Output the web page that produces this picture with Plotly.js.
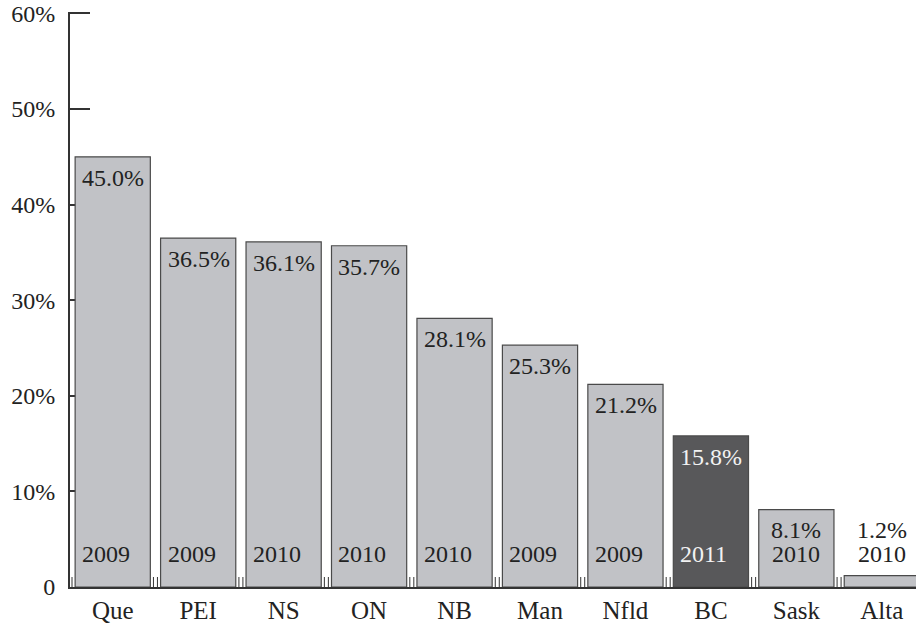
<!DOCTYPE html>
<html><head><meta charset="utf-8">
<script src="https://cdn.plot.ly/plotly-3.0.1.min.js"></script>
<style>html,body{margin:0;padding:0;background:#fff;}#chart{width:916px;height:630px;}</style>
</head><body><div id="chart"></div>
<script>
var provinces = ['Que','PEI','NS','ON','NB','Man','Nfld','BC','Sask','Alta'];
var values = [45.0, 36.5, 36.1, 35.7, 28.1, 25.3, 21.2, 15.8, 8.1, 1.2];
var years = ['2009','2009','2010','2010','2010','2009','2009','2011','2010','2010'];
var highlight = 'BC';
var yTickVals = [0,10,20,30,40,50,60];
var yTickText = ['0','10%','20%','30%','40%','50%','60%'];

var FONT = 'Liberation Serif, Times New Roman, serif';
var bargap = 0.12;
var half = (1 - bargap) / 2;
var idx = provinces.map(function(_, i){ return i; });
var fills = provinces.map(function(p){ return p === highlight ? '#58585a' : '#c1c2c6'; });

var trace = {
  type: 'bar', x: idx, y: values,
  marker: {color: fills, line: {color: '#4a4a4a', width: 1.2}},
  hoverinfo: 'none'
};

var ann = [];
var shapes = [];
values.forEach(function(v, i){
  var col = provinces[i] === highlight ? '#f2f2f2' : '#222';
  var f = {family: FONT, size: 24, color: col};
  if (v >= 10) {
    ann.push({x: i - half, y: v, xref: 'x', yref: 'y', xanchor: 'left', yanchor: 'middle',
      xshift: 5, yshift: -21, text: v.toFixed(1) + '%', showarrow: false, font: f});
    ann.push({x: i - half, y: 0, xref: 'x', yref: 'y', xanchor: 'left', yanchor: 'middle',
      xshift: 5, yshift: 33, text: years[i], showarrow: false, font: f});
  } else {
    ann.push({x: i, y: 0, xref: 'x', yref: 'y', xanchor: 'center', yanchor: 'middle',
      yshift: 57, text: v.toFixed(1) + '%', showarrow: false, font: f});
    ann.push({x: i, y: 0, xref: 'x', yref: 'y', xanchor: 'center', yanchor: 'middle',
      yshift: 33, text: years[i], showarrow: false, font: f});
  }
  var b = i - 0.5;
  [-2, 2].forEach(function(dx){
    shapes.push({type: 'line', xref: 'x', yref: 'y', xsizemode: 'pixel', ysizemode: 'pixel',
      xanchor: b, yanchor: 0, x0: dx, x1: dx, y0: 0, y1: 10,
      line: {color: '#333', width: 1}});
  });
});

var layout = {
  width: 916, height: 630,
  margin: {l: 70, r: 0, t: 12, b: 43},
  paper_bgcolor: '#fff', plot_bgcolor: '#fff',
  showlegend: false, bargap: bargap,
  font: {family: FONT, size: 24, color: '#222'},
  xaxis: {
    range: [-0.5, 9.4], tickvals: idx, ticktext: provinces,
    showline: true, linecolor: '#333', linewidth: 2, ticks: '',
    showgrid: false, zeroline: false, fixedrange: true,
    tickfont: {family: FONT, size: 25, color: '#222'}
  },
  yaxis: {
    range: [0, 60.15], tickvals: yTickVals, ticktext: yTickText,
    showline: true, linecolor: '#333', linewidth: 2,
    ticks: 'inside', ticklen: 20, tickwidth: 2, tickcolor: '#333',
    showgrid: false, zeroline: false, layer: 'below traces', ticklabelstandoff: 8,
    tickfont: {family: FONT, size: 24, color: '#222'}
  },
  annotations: ann, shapes: shapes
};

Plotly.newPlot('chart', [trace], layout, {displayModeBar: false, staticPlot: true});
</script></body></html>
